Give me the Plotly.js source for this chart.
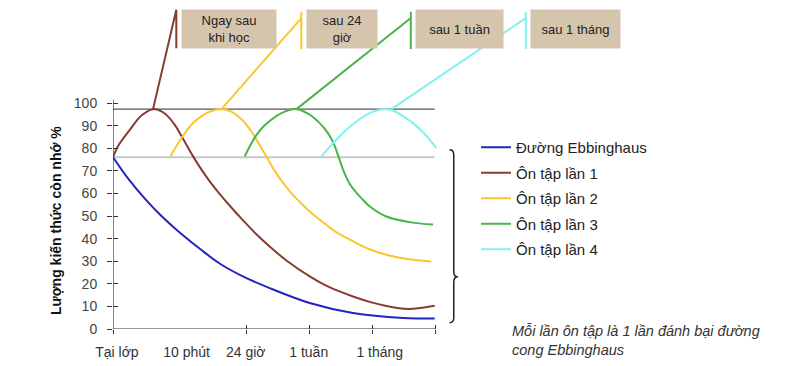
<!DOCTYPE html>
<html><head><meta charset="utf-8">
<script src="https://cdn.plot.ly/plotly-3.0.1.min.js"></script>
<style>html,body{margin:0;padding:0;background:#fff}</style>
</head><body><div id="chart" style="width:800px;height:366px"></div>
<script>
// ---- data (x in arbitrary time units: 0 = "Tại lớp", 100 = end of axis) ----
var tickLabels = ["Tại lớp", "10 phút", "24 giờ", "1 tuần", "1 tháng"];
var labelPos = [1.2, 22.8, 41.1, 60.6, 82.6];
var tickPos = [0, 41.3, 60.9, 80.3, 99.9];
var yTicks = [0, 10, 20, 30, 40, 50, 60, 70, 80, 90, 100];

var seriesNames = ["Đường Ebbinghaus", "Ôn tập lần 1", "Ôn tập lần 2", "Ôn tập lần 3", "Ôn tập lần 4"];

var blueX = [0, 5, 10, 15, 20, 26.9, 33, 40.2, 48.5, 60.9, 74.3, 89.8, 99.6];
var blueY = [76, 66, 57.5, 50, 43.5, 35.5, 29, 23.3, 18.1, 11.5, 7.1, 4.9, 4.6];

var brownX = [0, 1.5, 5.2, 8.8, 12.4, 15, 17, 19.2, 21.2, 24.8, 27.5, 30, 33, 36.5, 40.2, 44, 48.5, 54, 60.9, 67, 74.3, 80, 84.6, 88, 91.9, 95, 99.6];
var brownY = [76, 80.8, 88.1, 94.5, 97.3, 96.3, 94.1, 90.2, 85.4, 76.4, 70.3, 65.2, 59.8, 54, 48.2, 42.5, 36.5, 30, 23.3, 18.5, 14.4, 11.8, 10.2, 9.3, 8.9, 9.3, 10.3];

var yellowX = [17.8, 19.8, 22, 24.8, 28, 31, 33.6, 36.5, 40, 42.3, 44.4, 47.5, 50, 52.3, 55, 58, 61, 64, 69, 74.3, 79, 84.6, 91, 98.6];
var yellowY = [76.4, 81.3, 86.2, 91.2, 94.8, 96.7, 97.3, 96.3, 92.5, 88.5, 83.8, 76.3, 70.2, 65.3, 60.5, 56, 51.9, 48.4, 43, 38.8, 35.5, 32.9, 31, 29.9];

var greenX = [40.8, 42.6, 44.4, 46.5, 49, 52, 56.8, 60.5, 64, 66.5, 68.5, 70, 71.5, 73.3, 75.4, 77.5, 79.5, 84.6, 91.9, 99.1];
var greenY = [76.4, 81.5, 85.8, 89.5, 92.6, 95.4, 97.3, 95.2, 91.1, 86.8, 81.5, 75.5, 69.5, 64.2, 60.2, 57, 54.2, 49.8, 47.3, 46.2];

var cyanX = [64.5, 67, 69.5, 72, 74.3, 77, 80, 83.6, 87, 90, 92.9, 96.5, 100.1];
var cyanY = [76.4, 80.5, 84.3, 87.8, 90.6, 93.5, 95.9, 97.3, 96.5, 94, 91.1, 86.3, 80.1];

// connector lines from each peak up to the label boxes
var brownLinkX = [12.4, 19.6, 19.6];
var brownLinkY = [97.3, 141.3, 124.3];
var yellowLinkX = [33.6, 58.3, 58.3, 58.3];
var yellowLinkY = [97.3, 137.6, 140.4, 123.9];
var greenLinkX = [56.8, 92.2, 92.2, 92.2];
var greenLinkY = [97.3, 137.6, 140.4, 123.9];
var cyanLinkX = [86.2, 127.8, 127.8, 127.8];
var cyanLinkY = [97.3, 137.6, 140.4, 123.9];

var boxTexts = ["Ngay sau<br>khi học", "sau 24<br>giờ", "sau 1 tuần", "sau 1 tháng"];
var boxX = [35.9, 71.0, 107.3, 143.3];
var boxY = 132.8;
var boxW = [94, 70, 87, 89];

var peakLevel = 97.3;
var startLevel = 76;

var caption = "Mỗi lần ôn tập là 1 lần đánh bại đường<br>cong Ebbinghaus";
var yTitle = "Lượng kiến thức còn nhớ %";

// ---- styling ----
var colors = ["#2424c0", "#8a3b30", "#fdc62e", "#4bb449", "#80f1f1"];
var FONT = "Liberation Sans, Arial, sans-serif";
var XR = [0, 212.7], YR = [0, 145.6];

function curve(x, y, i) {
  return {x: x, y: y, name: seriesNames[i], type: "scatter", mode: "lines",
    line: {color: colors[i], width: 2, shape: "spline", smoothing: 1},
    legendgroup: "g" + i, hoverinfo: "skip"};
}
function link(x, y, i) {
  return {x: x, y: y, type: "scatter", mode: "lines", showlegend: false,
    line: {color: colors[i], width: 2}, hoverinfo: "skip"};
}
var traces = [
  link(brownLinkX, brownLinkY, 1), link(yellowLinkX, yellowLinkY, 2),
  link(greenLinkX, greenLinkY, 3), link(cyanLinkX, cyanLinkY, 4),
  curve(blueX, blueY, 0), curve(brownX, brownY, 1), curve(yellowX, yellowY, 2),
  curve(greenX, greenY, 3), curve(cyanX, cyanY, 4),
  {x: [], y: [], xaxis: "x2", yaxis: "y", showlegend: false},
  {x: [], y: [], xaxis: "x3", yaxis: "y", showlegend: false},
  {x: [], y: [], xaxis: "x", yaxis: "y2", showlegend: false}
];

var annotations = boxTexts.map(function (t, i) {
  return {x: boxX[i], y: boxY, xref: "x", yref: "y", text: t, showarrow: false,
    width: boxW[i], height: 38, bgcolor: "#d5c5ad", borderpad: 0,
    font: {family: FONT, size: 13, color: "#222"}, align: "center", valign: "middle"};
});
annotations.push({xref: "paper", yref: "paper", x: (510 - 113) / 687, xanchor: "left",
  y: -0.036, yanchor: "middle", text: caption, showarrow: false, align: "left",
  font: {family: FONT, size: 14.5, color: "#333", style: "italic"}});
annotations.push({xref: "paper", yref: "y", x: (56 - 113) / 687, xanchor: "center",
  y: (329 - 221) / 2.26, yanchor: "middle", text: yTitle, showarrow: false, textangle: -90,
  font: {family: FONT, size: 14, color: "#111", weight: "bold"}});

var shapes = [
  {type: "line", xref: "x", yref: "y", x0: 0, x1: 99.6, y0: peakLevel, y1: peakLevel, layer: "below", line: {color: "#555", width: 1.2}},
  {type: "line", xref: "x", yref: "y", x0: 0, x1: 99.6, y0: startLevel, y1: startLevel, layer: "below", line: {color: "#c8c8c8", width: 2}},
  {type: "line", xref: "x", yref: "y", x0: 0, x1: 100, y0: 0, y1: 0, line: {color: "#333", width: 1.2}},
  {type: "line", xref: "x", yref: "y", x0: 0, x1: 0, y0: 0, y1: 101.5, line: {color: "#333", width: 1.2}},
  {type: "path", xref: "x", yref: "y", line: {color: "#222", width: 1.5},
   path: "M 104.2,79.3 Q 105.5,79.3 105.5,77 L 105.5,25.5 Q 105.5,23.1 106.8,23.1 Q 105.5,23.1 105.5,20.7 L 105.5,5 Q 105.5,2.8 104.2,2.8"}
];

var common = {range: XR, showgrid: false, zeroline: false, showline: false, fixedrange: true};
var layout = {
  width: 800, height: 366,
  margin: {l: 113, r: 0, t: 0, b: 37},
  paper_bgcolor: "#fff", plot_bgcolor: "#fff",
  font: {family: FONT, color: "#333"},
  showlegend: true,
  legend: {x: (476 - 113) / 687, y: 1 - 131 / 329, xanchor: "left", yanchor: "top",
    font: {family: FONT, size: 15, color: "#222"}, tracegroupgap: 3,
    bgcolor: "rgba(0,0,0,0)", itemwidth: 30},
  xaxis: Object.assign({}, common, {tickmode: "array", tickvals: labelPos, ticktext: tickLabels,
    ticks: "", tickfont: {family: FONT, size: 14, color: "#333"}, ticklabelstandoff: 13}),
  xaxis2: Object.assign({}, common, {overlaying: "x", anchor: "y", tickmode: "array", tickvals: tickPos,
    ticks: "outside", ticklen: 4, tickcolor: "#333", showticklabels: false}),
  xaxis3: Object.assign({}, common, {overlaying: "x", anchor: "y", tickmode: "array", tickvals: tickPos,
    ticks: "inside", ticklen: 4, tickcolor: "#333", showticklabels: false}),
  yaxis: {range: YR, showgrid: false, zeroline: false, showline: false, fixedrange: true,
    tickmode: "array", tickvals: yTicks, ticks: "outside", ticklen: 5, tickcolor: "#333",
    tickfont: {family: FONT, size: 14, color: "#444"}, ticklabelstandoff: 7},
  yaxis2: {range: YR, overlaying: "y", anchor: "x", side: "left", showgrid: false, zeroline: false,
    showline: false, fixedrange: true, tickmode: "array", tickvals: yTicks, ticks: "inside",
    ticklen: 5, tickcolor: "#333", showticklabels: false},
  annotations: annotations,
  shapes: shapes
};
Plotly.newPlot("chart", traces, layout, {displayModeBar: false, staticPlot: true});
</script></body></html>
